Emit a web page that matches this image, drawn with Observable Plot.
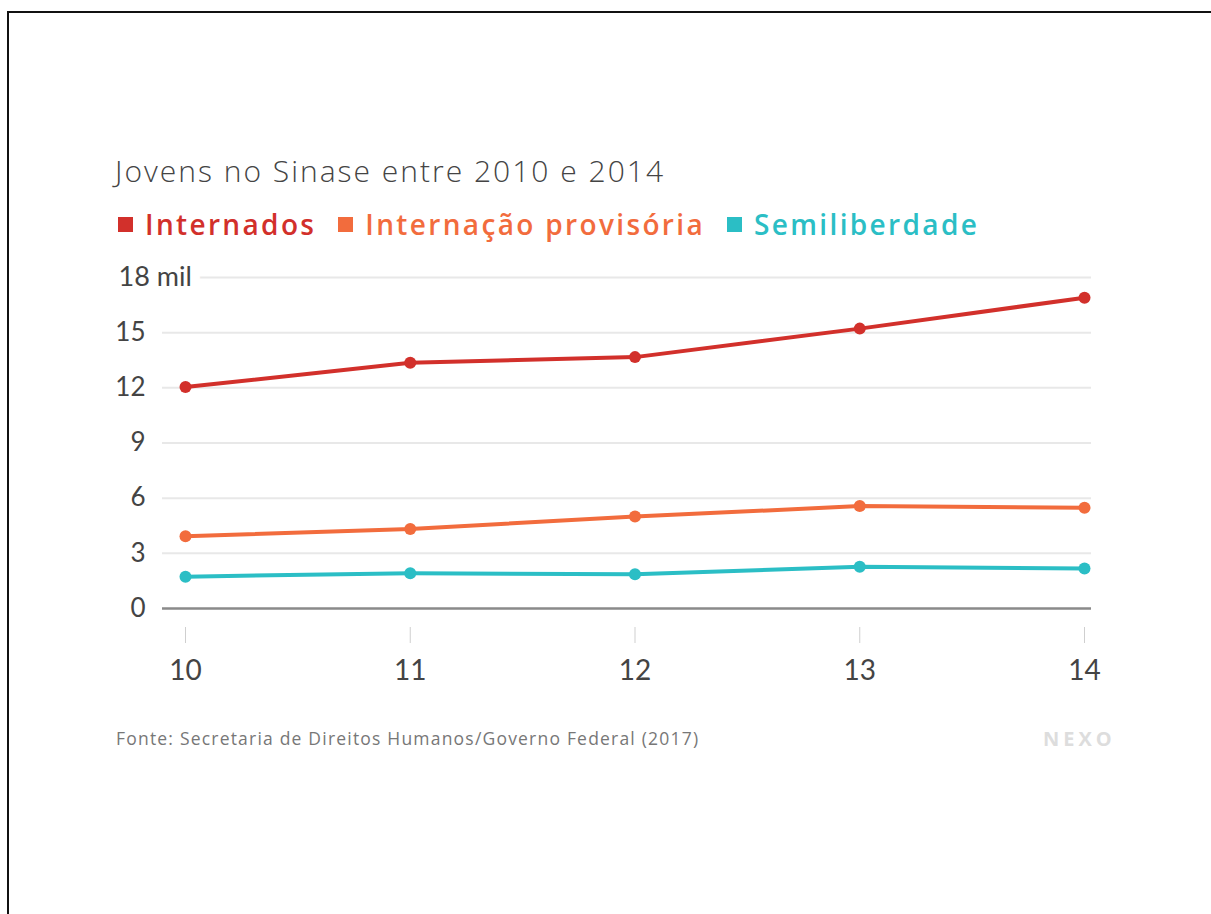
<!DOCTYPE html>
<html>
<head>
<meta charset="utf-8">
<script src="https://cdn.jsdelivr.net/npm/d3@7"></script>
<script src="https://cdn.jsdelivr.net/npm/@observablehq/plot@0.6"></script>
<style>
  html, body { margin: 0; padding: 0; background: #fff; }
  body { width: 1211px; height: 914px; overflow: hidden; position: relative; font-family: "Open Sans", Lato, sans-serif; }
  #frame { position: absolute; left: 7px; top: 11px; width: 1210px; height: 910px; border-left: 2px solid #111; border-top: 2px solid #111; }
  #title { position: absolute; left: 115px; top: 150px; font-size: 30px; font-weight: 300; color: #444; white-space: nowrap; letter-spacing: 2px; }
  #legend { position: absolute; left: 118px; top: 205px; display: flex; align-items: center; font-size: 28px; font-weight: 600; white-space: nowrap; letter-spacing: 2.35px; }
  #legend .item { display: flex; align-items: center; margin-right: 22px; }
  #legend .sw { width: 15px; height: 15px; margin-right: 12px; }
  #chart { position: absolute; left: 0; top: 250px; }
  #source { position: absolute; left: 116px; top: 726px; font-size: 17.5px; color: #777; white-space: nowrap; letter-spacing: 1.2px; }
  #logo { position: absolute; left: 1043px; top: 725px; font-size: 20px; font-weight: 700; color: #ddd; letter-spacing: 4px; }
</style>
</head>
<body>
<div id="frame"></div>
<div id="title"></div>
<div id="legend"></div>
<div id="chart"></div>
<div id="source"></div>
<div id="logo"></div>
<script>
// ---- data ----
const titleText = "Jovens no Sinase entre 2010 e 2014";
const sourceText = "Fonte: Secretaria de Direitos Humanos/Governo Federal (2017)";
const logoText = "NEXO";
const years = [10, 11, 12, 13, 14];
const seriesNames = ["Internados", "Internação provisória", "Semiliberdade"];
const seriesColors = ["#d2302b", "#f26c3d", "#2bbec5"];
const internados = [12.04, 13.36, 13.67, 15.22, 16.90];
const provisoria = [3.93, 4.32, 5.00, 5.57, 5.48];
const semiliberdade = [1.73, 1.92, 1.86, 2.27, 2.17];
const yTicks = [0, 3, 6, 9, 12, 15, 18];
const yUnit = "mil";

// ---- build table ----
const seriesValues = [internados, provisoria, semiliberdade];
const rows = [];
seriesNames.forEach((name, i) => {
  years.forEach((yr, j) => rows.push({series: name, year: yr, value: seriesValues[i][j]}));
});

document.getElementById("title").textContent = titleText;
document.getElementById("source").textContent = sourceText;
document.getElementById("logo").textContent = logoText;
const legend = document.getElementById("legend");
seriesNames.forEach((name, i) => {
  const it = document.createElement("div");
  it.className = "item";
  const sw = document.createElement("div");
  sw.className = "sw";
  sw.style.background = seriesColors[i];
  const tx = document.createElement("span");
  tx.textContent = name;
  tx.style.color = seriesColors[i];
  it.appendChild(sw); it.appendChild(tx);
  legend.appendChild(it);
});

const topTick = yTicks[yTicks.length - 1];
const chart = Plot.plot({
  width: 1211,
  height: 450,
  marginLeft: 162,
  marginRight: 120,
  marginTop: 27,
  marginBottom: 92,
  style: {fontFamily: "Lato, 'Open Sans', sans-serif", color: "#444", background: "transparent"},
  x: {type: "linear", domain: [years[0], years[years.length - 1]], insetLeft: 23, insetRight: 7, axis: null},
  y: {domain: [yTicks[0], topTick], axis: null},
  color: {domain: seriesNames, range: seriesColors},
  marks: [
    Plot.ruleY(yTicks.slice(1), {stroke: "#e8e8e8", strokeWidth: 2}),
    Plot.ruleY([0], {stroke: "#8a8a8a", strokeWidth: 2.5}),
    Plot.axisY({ticks: yTicks.slice(0, -1), label: null, tickSize: 0, tickPadding: 17, fontSize: 26, fill: "#444", tickFormat: d => String(d)}),
    Plot.text([topTick], {y: d => d, text: d => `${d} ${yUnit}`, frameAnchor: "left", textAnchor: "start", dx: -44, fontSize: 27, fill: "#444", stroke: "white", strokeWidth: 20}),
    Plot.axisX({ticks: years, label: null, tickSize: 16, tickPadding: 17, dy: 19, fontSize: 28, stroke: "#cfcfcf", fill: "#444", tickFormat: d => String(d)}),
    Plot.line(rows, {x: "year", y: "value", z: "series", stroke: "series", strokeWidth: 4}),
    Plot.dot(rows, {x: "year", y: "value", fill: "series", r: 6})
  ]
});
document.getElementById("chart").appendChild(chart);
</script>
</body>
</html>
